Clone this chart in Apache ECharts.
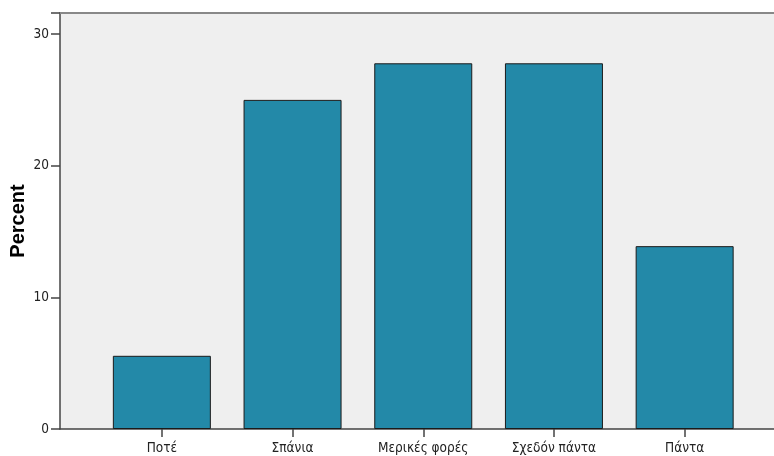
<!DOCTYPE html>
<html><head><meta charset="utf-8">
<script src="https://cdn.jsdelivr.net/npm/echarts@6/dist/echarts.min.js"></script>
<style>html,body{margin:0;padding:0;background:#fff}#c{width:774px;height:456px}</style>
</head><body><div id="c"></div>
<script>
const categories = ["Ποτέ", "Σπάνια", "Μερικές φορές", "Σχεδόν πάντα", "Πάντα"];
const percentValues = [5.56, 25.0, 27.78, 27.78, 13.89];
const yTicks = [0, 10, 20, 30];
const yMax = 31.6;

const chart = echarts.init(document.getElementById('c'));
const font = '"DejaVu Sans Condensed", "DejaVu Sans", sans-serif';
chart.setOption({
  animation: false,
  grid: [
    {left: 60, right: 0, top: 13, bottom: 27, show: true, backgroundColor: '#efefef', borderWidth: 0, outerBoundsMode: 'none', containLabel: false},
    {left: 96.5, right: 24, top: 13, bottom: 27, outerBoundsMode: 'none', containLabel: false}
  ],
  xAxis: [
    {gridIndex: 0, type: 'value', min: 0, max: 1, position: 'bottom', axisLine: {show: true, onZero: false, lineStyle: {color: '#444', width: 1.5}}, axisTick: {show: false}, axisLabel: {show: false}, splitLine: {show: false}},
    {gridIndex: 0, type: 'value', min: 0, max: 1, position: 'top', axisLine: {show: true, onZero: false, lineStyle: {color: '#888', width: 2}}, axisTick: {show: false}, axisLabel: {show: false}, splitLine: {show: false}},
    {gridIndex: 1, type: 'category', data: categories, axisLine: {show: false},
     axisTick: {show: true, alignWithLabel: true, length: 8, lineStyle: {color: '#444', width: 1.5}},
     axisLabel: {color: '#222', fontFamily: font, fontSize: 13.5, margin: 12}}
  ],
  yAxis: [
    {gridIndex: 0, type: 'value', show: false, min: 0, max: 1},
    {gridIndex: 1, type: 'value', min: 0, max: yMax, interval: 10, offset: 36.5,
     axisLine: {show: true, lineStyle: {color: '#444', width: 1.5}},
     axisTick: {show: true, length: 9, lineStyle: {color: '#444', width: 1.5}},
     axisLabel: {color: '#222', fontFamily: font, fontSize: 13.5, margin: 11,
       formatter: v => yTicks.includes(v) ? String(v) : ''},
     splitLine: {show: false},
     name: 'Percent', nameLocation: 'middle', nameGap: 32, nameMoveOverlap: false,
     nameTextStyle: {color: '#000', fontFamily: 'Liberation Sans, Arial, sans-serif', fontSize: 20, fontWeight: 'bold'}}
  ],
  series: [{
    type: 'bar', xAxisIndex: 2, yAxisIndex: 1, data: percentValues, barWidth: 98,
    itemStyle: {color: '#2389a8', borderColor: '#1b1b1b', borderWidth: 1}
  }]
});
</script></body></html>
